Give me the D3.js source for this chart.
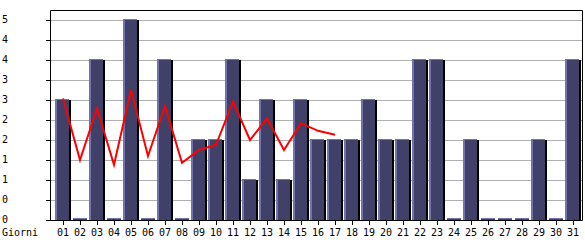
<!DOCTYPE html>
<html>
<head>
<meta charset="utf-8">
<script src="https://cdn.jsdelivr.net/npm/d3@7"></script>
<style>
  body { margin: 0; background: #fff; }
  text { font-family: "DejaVu Sans Mono", monospace; font-size: 10px; fill: #000; }
</style>
</head>
<body>
<div id="chart"></div>
<script>
const days = ["01","02","03","04","05","06","07","08","09","10","11","12","13","14","15","16",
  "17","18","19","20","21","22","23","24","25","26","27","28","29","30","31"];
const visits = [3,0,4,0,5,0,4,0,2,2,4,1,3,1,3,2,2,2,3,2,2,4,4,0,2,0,0,0,2,0,4];
// red trend line, only the first 17 days
const trendDays = days.slice(0, 17);
const trendValues = [3.04,1.5,2.79,1.38,3.25,1.6,2.85,1.43,1.75,1.88,2.96,2.0,2.54,1.75,2.42,2.23,2.13];
const yTicks = [0,0.5,1,1.5,2,2.5,3,3.5,4,4.5,5];
const xTitle = "Giorni";

const width = 585, height = 240;
const plot = { left: 50.5, right: 582.5, top: 10.5, bottom: 220.5 };

const svg = d3.select("#chart").append("svg")
  .attr("width", width).attr("height", height);

const x = d3.scaleBand().domain(days).range([55, 581]).paddingInner(1 / 17).paddingOuter(0);
const y = d3.scaleLinear().domain([0, 5]).range([220, 20]);

// gridlines
svg.append("g").selectAll("line").data(yTicks.filter(d => d > 0)).join("line")
  .attr("x1", plot.left).attr("x2", plot.right)
  .attr("y1", d => Math.round(y(d)) + 0.5).attr("y2", d => Math.round(y(d)) + 0.5)
  .attr("stroke", "#b0b0b0");

// bars
const bars = svg.append("g").selectAll("g").data(days).join("g");
const bw = x.bandwidth();
bars.each(function (d, i) {
  const g = d3.select(this);
  const x0 = x(d);
  const v = visits[i];
  if (v === 0) {
    g.append("rect").attr("x", x0 + 1).attr("y", 218).attr("width", bw - 2).attr("height", 1).attr("fill", "#7373ad");
    g.append("rect").attr("x", x0 + 1).attr("y", 219).attr("width", bw - 2).attr("height", 1).attr("fill", "#404068");
    return;
  }
  const top = y(v);
  g.append("rect").attr("x", x0).attr("y", top - 1).attr("width", bw - 2).attr("height", 220 - top + 1).attr("fill", "#7373ad");
  g.append("rect").attr("x", x0 + 2).attr("y", top).attr("width", bw - 4).attr("height", 220 - top).attr("fill", "#404068");
  g.append("rect").attr("x", x0 + bw - 2).attr("y", top).attr("width", 2).attr("height", 220 - top).attr("fill", "#000");
});

// trend line
const line = d3.line()
  .x((d, i) => x(trendDays[i]) + bw / 2)
  .y(d => y(d));
svg.append("path").datum(trendValues)
  .attr("fill", "none").attr("stroke", "#ff0000").attr("stroke-width", 2)
  .attr("stroke-linejoin", "miter").attr("d", line);

// frame
svg.append("path")
  .attr("d", `M${plot.left},${plot.bottom}V${plot.top}H${plot.right}V${plot.bottom}`)
  .attr("fill", "none").attr("stroke", "#000");

// y axis ticks and labels
const yAxis = svg.append("g");
yAxis.selectAll("line").data(yTicks).join("line")
  .attr("x1", 46).attr("x2", plot.left)
  .attr("y1", d => Math.round(y(d)) + 0.5).attr("y2", d => Math.round(y(d)) + 0.5)
  .attr("stroke", "#000");
yAxis.selectAll("text").data(yTicks).join("text")
  .attr("x", 2).attr("y", d => y(d) - 1).attr("dy", "0.35em")
  .text(d => Math.floor(d));

// x axis
svg.append("line").attr("x1", plot.left).attr("x2", plot.right)
  .attr("y1", plot.bottom).attr("y2", plot.bottom).attr("stroke", "#000");
const xAxis = svg.append("g");
xAxis.selectAll("line").data(days).join("line")
  .attr("x1", d => Math.round(x(d) + bw / 2) + 0.5).attr("x2", d => Math.round(x(d) + bw / 2) + 0.5)
  .attr("y1", plot.bottom).attr("y2", 225)
  .attr("stroke", "#000");
xAxis.selectAll("text").data(days).join("text")
  .attr("x", d => x(d) + bw / 2).attr("y", 236)
  .attr("text-anchor", "middle")
  .text(d => d);

svg.append("text").attr("x", 2).attr("y", 236).text(xTitle);
</script>
</body>
</html>
